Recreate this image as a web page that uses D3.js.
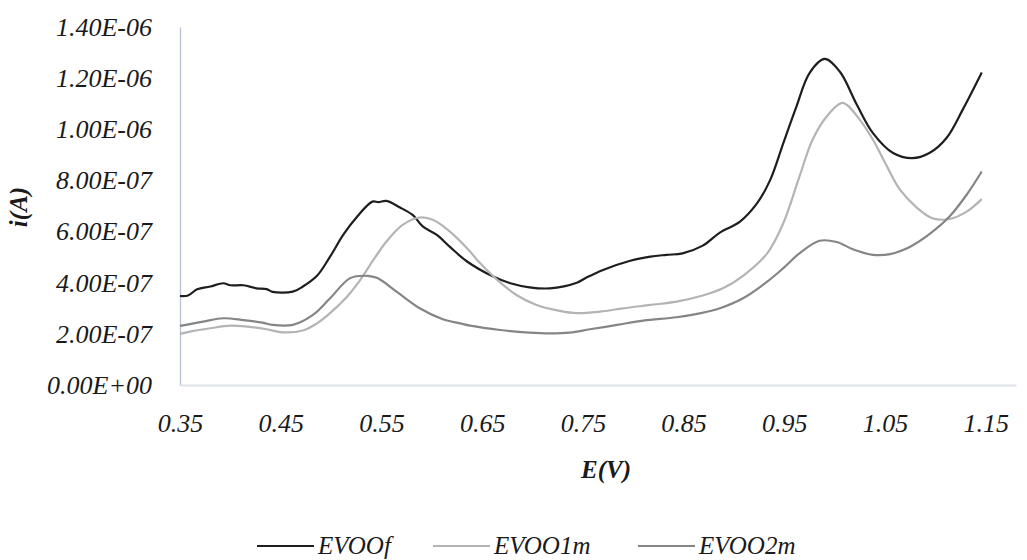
<!DOCTYPE html>
<html>
<head>
<meta charset="utf-8">
<script src="https://cdn.jsdelivr.net/npm/d3@7"></script>
<style>
  html, body { margin: 0; padding: 0; background: #fff; }
  svg { display: block; }
  text { font-family: "Liberation Serif", "Times New Roman", serif; font-style: italic; fill: #1a1a1a; }
</style>
</head>
<body>
<svg id="chart" width="1027" height="560"></svg>
<script>
// ---------- DATA ----------
const seriesNames = ["EVOOf", "EVOO1m", "EVOO2m"];

const xTicks = [0.35, 0.45, 0.55, 0.65, 0.75, 0.85, 0.95, 1.05, 1.15];
const yTicks = [0, 2e-7, 4e-7, 6e-7, 8e-7, 1e-6, 1.2e-6, 1.4e-6];

// potential E (V) and current i (units of 1e-7 A)
const evoofE = [0.350,0.358,0.367,0.380,0.393,0.400,0.413,0.426,0.436,0.442,0.462,0.472,0.486,0.499,0.512,0.526,0.541,0.547,0.555,0.568,0.581,0.591,0.605,0.618,0.635,0.661,0.678,0.697,0.717,0.744,0.754,0.770,0.797,0.817,0.833,0.849,0.869,0.886,0.906,0.923,0.936,0.949,0.962,0.975,0.990,1.005,1.022,1.038,1.058,1.077,1.094,1.111,1.127,1.146];
const evoofI = [3.48,3.50,3.74,3.85,3.98,3.90,3.90,3.78,3.75,3.64,3.65,3.85,4.27,5.02,5.87,6.59,7.17,7.15,7.20,6.95,6.65,6.20,5.87,5.40,4.83,4.24,3.98,3.82,3.78,4.00,4.21,4.50,4.86,5.02,5.09,5.15,5.45,5.96,6.39,7.11,8.02,9.46,10.89,12.20,12.75,12.26,10.96,9.85,9.07,8.87,9.07,9.66,10.76,12.22];

const evoo1mE = [0.350,0.360,0.380,0.400,0.417,0.436,0.452,0.472,0.486,0.499,0.516,0.529,0.542,0.555,0.571,0.588,0.601,0.618,0.638,0.645,0.665,0.684,0.704,0.727,0.744,0.767,0.790,0.817,0.843,0.869,0.889,0.909,0.933,0.949,0.965,0.978,0.992,1.007,1.012,1.025,1.038,1.052,1.065,1.082,1.097,1.114,1.131,1.146];
const evoo1mI = [2.00,2.09,2.22,2.32,2.28,2.18,2.06,2.13,2.41,2.81,3.46,4.11,4.89,5.61,6.26,6.55,6.46,6.00,5.22,4.89,4.11,3.52,3.13,2.90,2.81,2.87,3.00,3.13,3.26,3.50,3.78,4.27,5.15,6.33,8.15,9.59,10.50,11.03,10.96,10.37,9.59,8.54,7.63,6.92,6.52,6.49,6.78,7.27];

const evoo2mE = [0.350,0.373,0.393,0.413,0.432,0.442,0.462,0.482,0.499,0.519,0.536,0.546,0.565,0.588,0.611,0.628,0.638,0.668,0.697,0.717,0.737,0.757,0.784,0.810,0.843,0.866,0.886,0.909,0.933,0.949,0.965,0.985,1.002,1.018,1.038,1.055,1.075,1.094,1.114,1.131,1.146];
const evoo2mI = [2.31,2.48,2.61,2.54,2.44,2.35,2.35,2.74,3.39,4.18,4.27,4.18,3.65,3.00,2.57,2.41,2.32,2.15,2.05,2.02,2.05,2.18,2.35,2.52,2.65,2.80,3.00,3.39,4.04,4.57,5.15,5.64,5.59,5.31,5.09,5.12,5.41,5.90,6.59,7.44,8.35];

// ---------- BUILD ----------
const series = [
  { name: seriesNames[0], E: evoofE, I: evoofI, color: "#1e1e1e" },
  { name: seriesNames[1], E: evoo1mE, I: evoo1mI, color: "#b4b4b4" },
  { name: seriesNames[2], E: evoo2mE, I: evoo2mI, color: "#858585" }
].map(s => ({ ...s, points: s.E.map((e, k) => [e, s.I[k] * 1e-7]) }));

const svg = d3.select("#chart");
const x = d3.scaleLinear().domain([0.35, 1.18]).range([180, 1016]);
const y = d3.scaleLinear().domain([0, 1.4e-6]).range([385, 27]);

function sci(v) {
  const [m, e] = v.toExponential(2).split("e");
  const sign = e[0] === "-" ? "-" : "+";
  const digits = e.replace(/^[+-]/, "").padStart(2, "0");
  return m + "E" + sign + digits;
}

// y axis
const gy = svg.append("g").attr("transform", "translate(180,0)")
  .call(d3.axisLeft(y).tickValues(yTicks).tickFormat(sci).tickSize(0).tickSizeOuter(0).tickPadding(28));
gy.select(".domain").attr("stroke", "#b8c3d5").attr("stroke-width", 1.4);
gy.selectAll("text").attr("font-size", 26).attr("font-family", null).attr("fill", "#1a1a1a");

// x axis
const gx = svg.append("g").attr("transform", "translate(0,385)")
  .call(d3.axisBottom(x).tickValues(xTicks).tickFormat(d3.format(".2f")).tickSize(0).tickSizeOuter(0));
gx.select(".domain").attr("stroke", "#dde2ea").attr("stroke-width", 2);
gx.selectAll("text").attr("font-size", 26).attr("font-family", null).attr("y", 47).attr("dy", 0).attr("fill", "#1a1a1a");

// lines
const line = d3.line().x(d => x(d[0])).y(d => y(d[1])).curve(d3.curveCatmullRom.alpha(0.5));
svg.append("g").selectAll("path").data(series).join("path")
  .attr("d", d => line(d.points))
  .attr("fill", "none")
  .attr("stroke", d => d.color)
  .attr("stroke-width", 2.2)
  .attr("stroke-linejoin", "round");

// axis titles
svg.append("text").attr("x", 606).attr("y", 478).attr("text-anchor", "middle")
  .attr("font-size", 25).attr("font-weight", "bold").text("E(V)");
svg.append("text").attr("transform", "translate(27,207) rotate(-90)").attr("text-anchor", "middle")
  .attr("font-size", 25).attr("font-weight", "bold").text("i(A)");

// legend
const legendX = [257, 433, 638];
const lg = svg.append("g").selectAll("g").data(series).join("g")
  .attr("transform", (d, k) => `translate(${legendX[k]},546)`);
lg.append("line").attr("x1", 0).attr("x2", 57).attr("y1", 0).attr("y2", 0)
  .attr("stroke", d => d.color).attr("stroke-width", 2.2);
lg.append("text").attr("x", 61).attr("y", 8).attr("font-size", 25).text(d => d.name);
</script>
</body>
</html>
